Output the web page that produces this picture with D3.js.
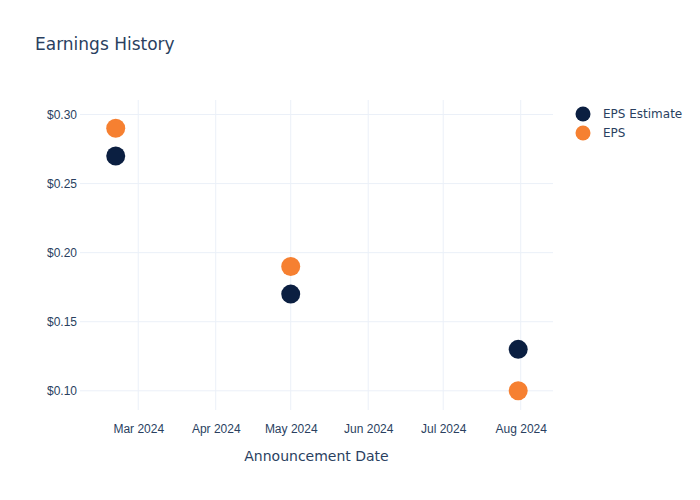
<!DOCTYPE html>
<html>
<head>
<meta charset="utf-8">
<script src="https://cdn.jsdelivr.net/npm/d3@7"></script>
<style>
  body { margin: 0; background: #fff; }
  svg { font-family: "DejaVu Sans", "Open Sans", sans-serif; }
</style>
</head>
<body>
<svg id="chart" width="700" height="500"></svg>
<script>
const dates = ["2024-02-21", "2024-05-01", "2024-07-31"];
const epsEstimate = [0.27, 0.17, 0.13];
const epsActual = [0.29, 0.19, 0.10];
const seriesNames = ["EPS Estimate", "EPS"];
const seriesColors = ["#0b1f41", "#f68031"];
const yTicks = [0.10, 0.15, 0.20, 0.25, 0.30];
const xTickDates = ["2024-03-01", "2024-04-01", "2024-05-01", "2024-06-01", "2024-07-01", "2024-08-01"];

(function () {
const parse = d3.utcParse("%Y-%m-%d");
const svg = d3.select("#chart");
const textColor = "#2a3f5f";
const gridColor = "#ebf0f8";

const pLeft = 80, pRight = 553, pTop = 100, pBottom = 410;

const x = d3.scaleUtc()
  .domain([new Date(Date.UTC(2024, 1, 6, 17)), new Date(Date.UTC(2024, 7, 13, 22))])
  .range([pLeft, pRight]);
const y = d3.scaleLinear()
  .domain([0.0861, 0.3105])
  .range([pBottom, pTop]);

// gridlines
const g = svg.append("g");
g.selectAll("line.vx").data(xTickDates.map(parse)).enter().append("line")
  .attr("x1", d => x(d)).attr("x2", d => x(d))
  .attr("y1", pTop).attr("y2", pBottom)
  .attr("stroke", gridColor).attr("stroke-width", 1);
g.selectAll("line.hy").data(yTicks).enter().append("line")
  .attr("x1", pLeft).attr("x2", pRight)
  .attr("y1", d => y(d)).attr("y2", d => y(d))
  .attr("stroke", gridColor).attr("stroke-width", 1);

// axes
const xAxis = d3.axisBottom(x)
  .tickValues(xTickDates.map(parse))
  .tickFormat(d3.utcFormat("%b %Y"))
  .tickSize(0).tickPadding(14);
const xg = svg.append("g").attr("transform", `translate(0,${pBottom})`).call(xAxis);
xg.select(".domain").remove();
xg.selectAll("text").attr("fill", textColor).style("font-size", "12px");

const yAxis = d3.axisLeft(y)
  .tickValues(yTicks)
  .tickFormat(d => "$" + d3.format(".2f")(d))
  .tickSize(0).tickPadding(2);
const yg = svg.append("g").attr("transform", `translate(${pLeft - 1},0)`).call(yAxis);
yg.select(".domain").remove();
yg.selectAll("text").attr("fill", textColor).style("font-size", "12px");

// axis title
svg.append("text")
  .attr("x", (pLeft + pRight) / 2).attr("y", 461)
  .attr("text-anchor", "middle")
  .attr("fill", textColor).style("font-size", "14px")
  .text("Announcement Date");

// title
svg.append("text")
  .attr("x", 35).attr("y", 50)
  .attr("fill", textColor).style("font-size", "17px")
  .text("Earnings History");

// points
const series = [epsEstimate, epsActual];
series.forEach((vals, i) => {
  svg.append("g").selectAll("circle").data(vals).enter().append("circle")
    .attr("cx", (d, j) => x(parse(dates[j])))
    .attr("cy", d => y(d))
    .attr("r", 9.5)
    .attr("fill", seriesColors[i]);
});

// legend
const lg = svg.append("g");
seriesNames.forEach((name, i) => {
  const yy = 114 + i * 19;
  lg.append("circle").attr("cx", 583).attr("cy", yy).attr("r", 7.5).attr("fill", seriesColors[i]);
  lg.append("text").attr("x", 603).attr("y", yy + 4)
    .attr("fill", textColor).style("font-size", "12px").text(name);
});
})();
</script>
</body>
</html>
